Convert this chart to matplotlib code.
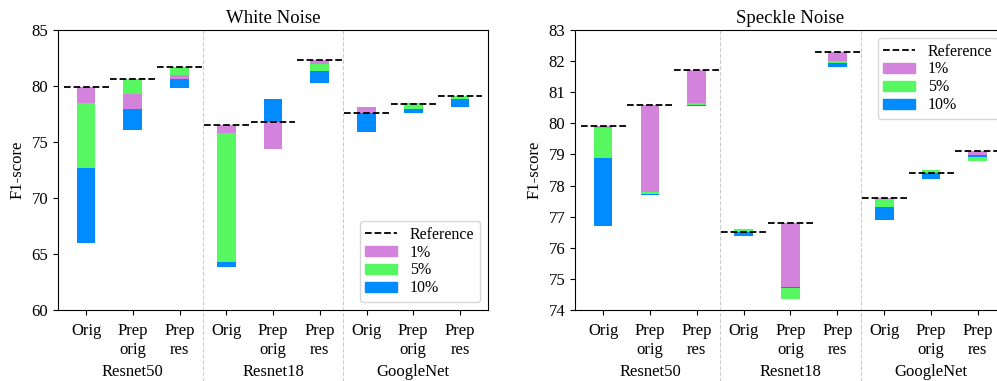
import matplotlib
matplotlib.use('Agg')
import matplotlib.pyplot as plt
from matplotlib.lines import Line2D
from matplotlib.patches import Patch

plt.rcParams['font.family'] = ['Liberation Serif', 'DejaVu Serif']
plt.rcParams['font.size'] = 12

# данные
models = ['Resnet50', 'Resnet18', 'GoogleNet']
variants = ['Orig', 'Prep\norig', 'Prep\nres']
levels = ['1%', '5%', '10%']
colors = ['#d383dc', '#57f762', '#008bff']

# White Noise
white_ref = [79.9, 80.6, 81.7, 76.5, 76.8, 82.3, 77.6, 78.4, 79.1]
white_1 = [78.45, 77.95, 80.6, 75.8, 74.4, 82.0, 78.1, 78.5, 78.8]
white_5 = [72.7, 79.3, 81.0, 64.3, 76.8, 81.3, 77.6, 77.95, 78.8]
white_10 = [66.0, 76.1, 79.8, 63.8, 78.8, 80.3, 75.9, 77.6, 78.1]

# Speckle Noise
speckle_ref = [79.9, 80.6, 81.72, 76.5, 76.8, 82.3, 77.6, 78.4, 79.1]
speckle_1 = [79.86, 77.8, 80.65, 76.5, 74.75, 82.0, 77.58, 78.4, 78.97]
speckle_5 = [78.9, 77.72, 80.6, 76.61, 74.35, 81.93, 77.3, 78.5, 78.8]
speckle_10 = [76.7, 77.68, 80.55, 76.39, 74.7, 81.8, 76.9, 78.2, 78.92]


def draw(ax, ref, vals, title, ylim, yticks, legend_loc):
    xs = list(range(len(ref)))
    for i in xs:
        # сначала рисуем самые длинные столбцы, короткие поверх
        order = sorted(range(3), key=lambda k: -abs(vals[k][i] - ref[i]))
        for k in order:
            ax.bar(i, vals[k][i] - ref[i], bottom=ref[i], width=0.4,
                   color=colors[k], zorder=2)
        ax.hlines(ref[i], i - 0.48, i + 0.48, colors='black',
                  linestyles='--', lw=1.3, zorder=3)
    ax.set_xlim(-0.6, 8.6)
    ax.set_ylim(*ylim)
    ax.set_yticks(yticks)
    ax.set_xticks(xs)
    ax.set_xticklabels(variants * 3)
    ax.tick_params(axis='x', pad=6)
    ax.set_ylabel('F1-score')
    ax.set_title(title, fontsize=13.5, pad=5)
    tr = ax.get_xaxis_transform()
    for s in [2.5, 5.5]:
        ax.plot([s, s], [1, -0.26], transform=tr, clip_on=False,
                color='#cccccc', lw=0.8, ls='--', zorder=0)
    for j, m in enumerate(models):
        ax.text(3 * j + 1, -0.22, m, transform=tr, ha='center', va='center')
    handles = [Line2D([], [], color='black', ls='--', lw=1.3)]
    handles += [Patch(color=c) for c in colors]
    ax.legend(handles, ['Reference'] + levels, loc=legend_loc,
              fontsize=11.5, labelspacing=0.12, borderpad=0.35,
              handlelength=2.0, handleheight=0.6)


fig = plt.figure(figsize=(9.97, 3.81), dpi=100)
ax1 = fig.add_axes([0.0582, 0.1864, 0.4313, 0.735])
ax2 = fig.add_axes([0.5767, 0.1864, 0.4323, 0.735])

draw(ax1, white_ref, [white_1, white_5, white_10], 'White Noise',
     (60, 85), range(60, 86, 5), 'lower right')
draw(ax2, speckle_ref, [speckle_1, speckle_5, speckle_10], 'Speckle Noise',
     (74, 83), range(74, 84), 'upper right')

fig.savefig('out.png', dpi=100)
